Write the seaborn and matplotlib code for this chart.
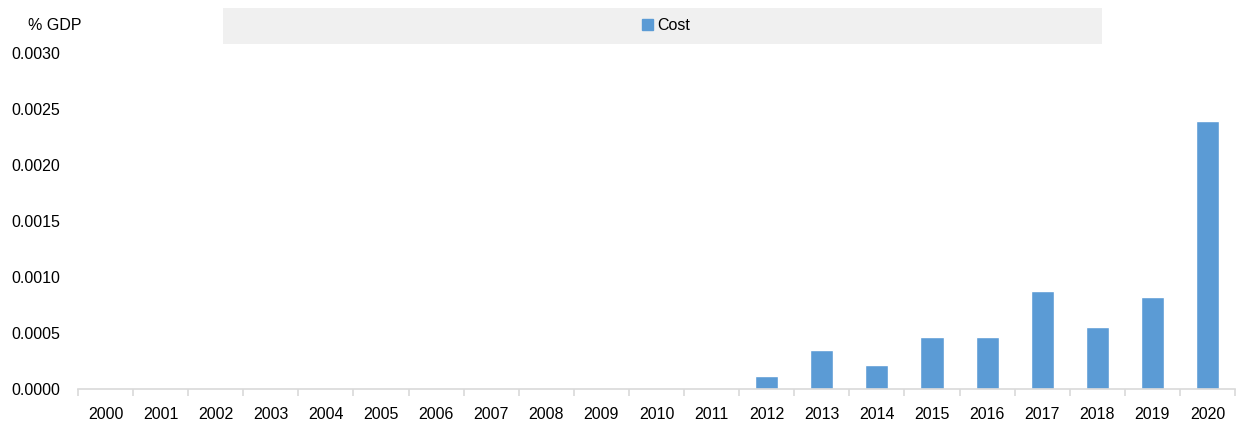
import matplotlib
matplotlib.use("Agg")
import matplotlib.pyplot as plt
import seaborn as sns
from matplotlib.patches import Rectangle
from matplotlib.ticker import FixedLocator

# data
years = [str(y) for y in range(2000, 2021)]
cost = [0, 0, 0, 0, 0, 0, 0, 0, 0, 0, 0, 0,
        0.000112, 0.000344, 0.00021, 0.00046, 0.00046,
        0.000873, 0.000552, 0.00082, 0.00239]
yticks = [0.0, 0.0005, 0.0010, 0.0015, 0.0020, 0.0025, 0.0030]

sns.set_style("white")
plt.rcParams['font.family'] = ['Liberation Sans', 'DejaVu Sans']
plt.rcParams['text.color'] = 'black'
fs = 11.5

fig = plt.figure(figsize=(12.39, 4.23), dpi=100)
ax = fig.add_axes([78/1239, 1-388.5/423, (1235-78)/1239, (388.5-53)/423])

sns.barplot(x=years, y=cost, color="#5B9BD5", width=0.42, ax=ax,
            saturation=1, label="Cost", legend=False)

ax.set_xlim(-0.5, len(years) - 0.5)
ax.set_ylim(0, 0.003)
ax.set_yticks(yticks)
ax.set_yticklabels([f"{v:.4f}" for v in yticks])
ax.set_xlabel("")
ax.set_ylabel("")

for s in ["top", "right", "left"]:
    ax.spines[s].set_visible(False)
ax.spines["bottom"].set_color("#d9d9d9")
ax.spines["bottom"].set_linewidth(1.2)

ax.xaxis.set_minor_locator(FixedLocator([i - 0.5 for i in range(len(years) + 1)]))
ax.tick_params(axis="x", which="minor", bottom=True, length=5, color="#d9d9d9", width=1.2)
ax.tick_params(axis="x", which="major", length=0, pad=13.5, labelsize=fs, colors="black")
ax.tick_params(axis="y", length=0, pad=13, labelsize=fs, colors="black")

fig.text(28/1239, 1-25/423, "% GDP", fontsize=fs, va="center", ha="left", color="black")

# legend band
fig.patches.append(Rectangle((223/1239, 1-44/423), (1102-223)/1239, 36/423,
                             transform=fig.transFigure, facecolor="#f0f0f0",
                             edgecolor="none", zorder=0))
handles = [Rectangle((0, 0), 1, 1, color="#5B9BD5")]
fig.legend(handles, ["Cost"], loc="center", bbox_to_anchor=(666/1239, 1-26/423),
           frameon=False, fontsize=fs, handlelength=0.7, handleheight=0.7,
           handletextpad=0.3)

fig.savefig("out.png", dpi=100)
